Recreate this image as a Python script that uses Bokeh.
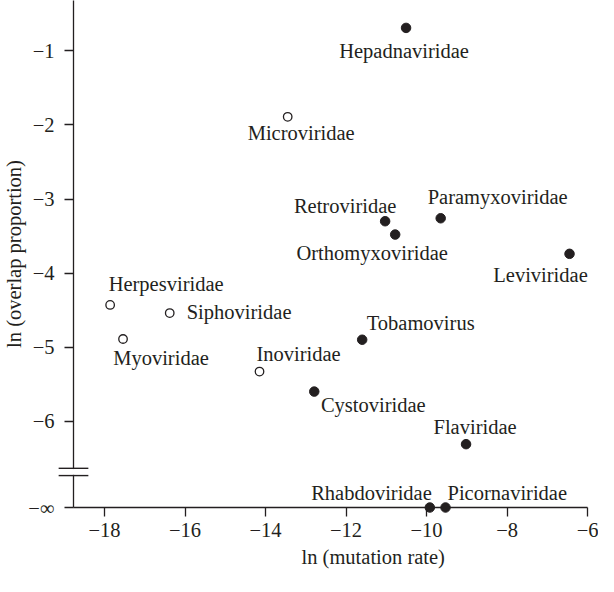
import math
from bokeh.plotting import figure
from bokeh.models import ColumnDataSource, LabelSet, FixedTicker, Range1d, Title
from bokeh.core.properties import value
from bokeh.embed import file_html
from bokeh.resources import INLINE

# ---------------- data ----------------
families = ["Hepadnaviridae", "Microviridae", "Retroviridae", "Orthomyxoviridae",
            "Paramyxoviridae", "Leviviridae", "Herpesviridae", "Siphoviridae",
            "Myoviridae", "Inoviridae", "Cystoviridae", "Tobamovirus",
            "Flaviridae", "Rhabdoviridae", "Picornaviridae"]
ln_mutation_rate = [-10.51, -13.45, -11.03, -10.78, -9.65, -6.45, -17.86, -16.38,
                    -17.54, -14.15, -12.79, -11.60, -9.02, -9.92, -9.53]
ln_overlap_proportion = [-0.69, -1.89, -3.30, -3.48, -3.26, -3.74, -4.43, -4.54,
                         -4.89, -5.33, -5.60, -4.90, -6.31, float("-inf"), float("-inf")]
marker_kind = ["filled", "open", "filled", "filled", "filled", "filled", "open", "open",
               "open", "open", "filled", "filled", "filled", "filled", "filled"]

x_ticks = [-18, -16, -14, -12, -10, -8, -6]
x_tick_labels = ["\u221218", "\u221216", "\u221214", "\u221212", "\u221210", "\u22128", "\u22126"]
y_ticks = [-6, -5, -4, -3, -2, -1]
y_tick_labels = ["\u22126", "\u22125", "\u22124", "\u22123", "\u22122", "\u22121"]
neg_inf_label = "\u2212\u221e"
x_title = "ln (mutation rate)"
y_title = "ln (overlap proportion)"

# ---------------- label placement (screen px, dy positive = down) ----------------
label_align = ["center", "center", "center", "center", "center", "center", "center", "left",
               "center", "center", "center", "center", "center", "right", "left"]
label_dx = [-2, 13.5, -40, -23, 57, -29, 56, 17, 38, 39, 59, 58.5, 9, 2, 2]
label_dy = [23, 16, -15, 18.5, -21, 21, -21, -1.5, 19, -18, 13.5, -16.5, -17, -15, -15]

# ---------------- layout / style ----------------
NEG_INF_POS = -7.165
X0, X1 = -18.77, -5.78
Y1 = -0.32
FONT = "Liberation Serif"
INK = "#231f20"
FS = "20.5px"
W, H = 598, 576
BL, BR, BT, BB = 68, 2, 0, 69
px_x = (W - BL - BR) / (X1 - X0)
px_y = (H - BT - BB) / (Y1 - NEG_INF_POS)

y_plot = [NEG_INF_POS if math.isinf(v) else v for v in ln_overlap_proportion]

src = {k: ColumnDataSource(dict(
    x=[x for x, m in zip(ln_mutation_rate, marker_kind) if m == k],
    y=[y for y, m in zip(y_plot, marker_kind) if m == k]))
    for k in ("filled", "open")}

lab_src = ColumnDataSource(dict(
    x=ln_mutation_rate, y=y_plot, name=families, align=label_align,
    xo=label_dx, yo=[-d for d in label_dy]))

p = figure(width=W, height=H, output_backend="svg", toolbar_location=None,
           x_range=Range1d(X0, X1), y_range=Range1d(NEG_INF_POS, Y1),
           min_border_left=BL, min_border_right=BR, min_border_top=BT, min_border_bottom=BB)
p.outline_line_color = None
p.xgrid.visible = False
p.ygrid.visible = False
p.background_fill_color = "white"
p.border_fill_color = "white"

for ax in (p.xaxis[0], p.yaxis[0]):
    ax.axis_line_color = INK
    ax.axis_line_width = 1.3
    ax.major_tick_line_color = INK
    ax.major_tick_line_width = 1.3
    ax.major_tick_in = 0
    ax.major_tick_out = 9
    ax.minor_tick_line_color = None
    ax.major_label_text_font = FONT
    ax.major_label_text_font_size = FS
    ax.major_label_text_color = INK

p.xaxis.ticker = FixedTicker(ticks=x_ticks)
p.xaxis.major_label_overrides = dict(zip(x_ticks, x_tick_labels))
p.xaxis.bounds = (X0, -6)
p.xaxis.major_label_standoff = 6

p.yaxis.ticker = FixedTicker(ticks=[NEG_INF_POS] + y_ticks)
ov = dict(zip(y_ticks, y_tick_labels))
ov[NEG_INF_POS] = neg_inf_label
p.yaxis.major_label_overrides = ov
p.yaxis.major_label_standoff = 10
p.yaxis.axis_label = y_title
p.yaxis.axis_label_text_font = FONT
p.yaxis.axis_label_text_font_size = FS
p.yaxis.axis_label_text_font_style = "normal"
p.yaxis.axis_label_text_color = INK
p.yaxis.axis_label_standoff = 0

xt = Title(text=x_title, align="left", offset=228, standoff=8, text_font=FONT,
           text_font_size=FS, text_font_style="normal", text_color=INK)
p.add_layout(xt, "below")

# axis break
brk_lo, brk_hi = -6.734, -6.636
half = 15 / px_x
p.segment(x0=[X0], y0=[brk_lo + 0.01], x1=[X0], y1=[brk_hi - 0.01],
          line_color="white", line_width=5, level="overlay")
p.segment(x0=[X0 - half, X0 - half], y0=[brk_lo, brk_hi], x1=[X0 + half, X0 + half],
          y1=[brk_lo, brk_hi], line_color=INK, line_width=1.4, level="overlay")

# points
p.scatter("x", "y", source=src["filled"], size=9.5, fill_color=INK, line_color=INK,
          level="overlay")
p.scatter("x", "y", source=src["open"], size=8.5, fill_color="white", line_color=INK,
          line_width=1.3, level="overlay")

labels = LabelSet(x="x", y="y", text="name", source=lab_src, x_offset="xo", y_offset="yo",
                  text_align="align", text_baseline="middle", text_font=value(FONT),
                  text_font_size=FS, text_color=INK)
p.add_layout(labels)

open("out.html", "w").write(file_html(p, INLINE))
